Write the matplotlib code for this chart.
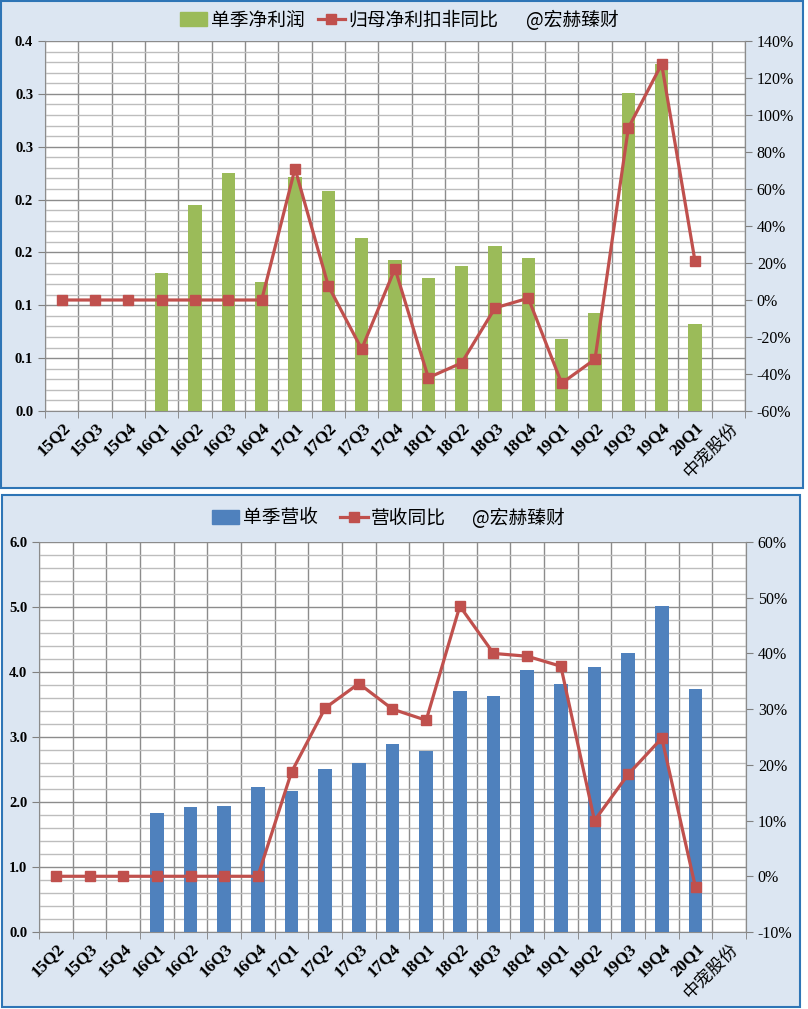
import numpy as np
import matplotlib.pyplot as plt
from matplotlib.patches import Rectangle, Patch
from matplotlib.lines import Line2D
from matplotlib.ticker import FixedLocator, MultipleLocator

# 数据
quarters = ['15Q2', '15Q3', '15Q4', '16Q1', '16Q2', '16Q3', '16Q4', '17Q1', '17Q2', '17Q3',
            '17Q4', '18Q1', '18Q2', '18Q3', '18Q4', '19Q1', '19Q2', '19Q3', '19Q4', '20Q1', '中宠股份']

profit = [np.nan, np.nan, np.nan, 0.131, 0.195, 0.225, 0.122, 0.221, 0.208, 0.164,
          0.143, 0.126, 0.137, 0.156, 0.145, 0.068, 0.093, 0.301, 0.328, 0.082, np.nan]
profit_yoy = [0, 0, 0, 0, 0, 0, 0, 71, 7.6, -26.5,
              17, -42, -34, -4.3, 1, -45, -32, 93, 127.5, 21, np.nan]

revenue = [np.nan, np.nan, np.nan, 1.83, 1.92, 1.94, 2.23, 2.17, 2.51, 2.60,
           2.89, 2.78, 3.71, 3.63, 4.03, 3.82, 4.08, 4.29, 5.02, 3.74, np.nan]
revenue_yoy = [0, 0, 0, 0, 0, 0, 0, 18.7, 30.2, 34.6,
               30.0, 28.0, 48.5, 40.0, 39.5, 37.7, 10.0, 18.3, 24.8, -2.0, np.nan]

profit_ticklabels = ['0.0', '0.1', '0.1', '0.2', '0.2', '0.3', '0.3', '0.4']

GREEN = '#9BBB59'
BLUE = '#4F81BD'
RED = '#C0504D'
BG = '#DCE6F2'
EDGE = '#2E75B6'

serif = ['Liberation Serif', 'Noto Sans CJK SC']
cjk = ['Noto Sans CJK SC', 'DejaVu Sans']

W, H = 808, 1009
fig = plt.figure(figsize=(W / 100, H / 100), dpi=100)

# 面板背景
fig.patches.append(Rectangle((1 / W, 1 - 488 / H), 802 / W, 487 / H, transform=fig.transFigure,
                             facecolor=BG, edgecolor=EDGE, linewidth=1.5, zorder=-5))
fig.patches.append(Rectangle((2 / W, 1 - 1007 / H), 798 / W, 512 / H, transform=fig.transFigure,
                             facecolor=BG, edgecolor=EDGE, linewidth=1.5, zorder=-5))


def make_panel(rect, bars, bar_color, line, ylim, ymajor, yminor, ylabels, rlim, rstep):
    ax = fig.add_axes(rect)
    ax.set_facecolor('white')
    x = np.arange(len(quarters))
    ax.bar(x, bars, width=0.4, color=bar_color, zorder=3)
    ax.set_xlim(-0.5, len(quarters) - 0.5)
    ax.set_ylim(*ylim)

    ax.xaxis.set_major_locator(FixedLocator(x))
    ax.set_xticklabels(quarters, rotation=45, ha='right', rotation_mode='anchor',
                       family=serif, fontweight='bold', fontsize=12.5)
    last = ax.get_xticklabels()[-1]
    last.set_fontweight('normal')
    last.set_family(cjk)
    last.set_fontsize(12.5)
    ax.xaxis.set_minor_locator(FixedLocator(np.arange(-0.5, len(quarters), 1)))
    ax.tick_params(axis='x', which='major', length=0, pad=6)
    ax.tick_params(axis='x', which='minor', length=5, color='#808080')

    ax.yaxis.set_major_locator(FixedLocator(ymajor))
    ax.yaxis.set_minor_locator(MultipleLocator(yminor))
    ax.set_yticklabels(ylabels, family=serif, fontweight='bold', fontsize=10.5)
    ax.tick_params(axis='y', which='major', length=5, color='#808080')
    ax.tick_params(axis='y', which='minor', length=0)

    ax.grid(which='minor', axis='x', color='#8C8C8C', linewidth=1, zorder=1)
    ax.grid(which='major', axis='y', color='#8C8C8C', linewidth=1, zorder=1)
    ax.grid(which='minor', axis='y', color='#BDBDBD', linewidth=1, zorder=1)
    ax.set_axisbelow(True)
    for s in ax.spines.values():
        s.set_color('#8C8C8C')
    ax.spines['top'].set_visible(False)

    ax2 = ax.twinx()
    ax2.plot(x, line, color=RED, linewidth=2.3, marker='s', markersize=6.8, zorder=5)
    ax2.set_ylim(*rlim)
    ticks = np.arange(rlim[0], rlim[1] + 1, rstep)
    ax2.yaxis.set_major_locator(FixedLocator(ticks))
    ax2.set_yticklabels([f'{int(t)}%' for t in ticks], family=serif, fontsize=11.5)
    ax2.tick_params(axis='y', length=5, color='#808080')
    for s in ax2.spines.values():
        s.set_visible(False)
    ax2.spines['right'].set_visible(True)
    ax2.spines['right'].set_color('#8C8C8C')
    return ax, ax2


# 上图：单季净利润
make_panel([45 / W, 1 - 411 / H, 700 / W, 370 / H], profit, GREEN, profit_yoy,
           (0, 0.35), np.arange(0, 0.351, 0.05), 0.01, profit_ticklabels, (-60, 140), 20)

h1 = [Patch(color=GREEN),
      Line2D([], [], color=RED, linewidth=2.3, marker='s', markersize=6.5)]
fig.legend(h1, ['单季净利润', '归母净利扣非同比'], loc='center left',
           bbox_to_anchor=(163 / W, 1 - 20 / H), ncol=2, frameon=False,
           prop={'family': cjk, 'size': 13.5}, handlelength=1.45, handletextpad=0.2,
           columnspacing=0.7)
fig.text(526 / W, 1 - 20 / H, '@宏赫臻财', family=cjk, fontsize=13.5, va='center', ha='left')

# 下图：单季营收
make_panel([39 / W, 1 - 932 / H, 707 / W, 390 / H], revenue, BLUE, revenue_yoy,
           (0, 6), np.arange(0, 6.01, 1), 0.2, [f'{v:.1f}' for v in range(7)], (-10, 60), 10)

h2 = [Patch(color=BLUE),
      Line2D([], [], color=RED, linewidth=2.3, marker='s', markersize=6.5)]
fig.legend(h2, ['单季营收', '营收同比'], loc='center left',
           bbox_to_anchor=(195 / W, 1 - 518 / H), ncol=2, frameon=False,
           prop={'family': cjk, 'size': 13.5}, handlelength=1.45, handletextpad=0.2,
           columnspacing=1.2)
fig.text(472 / W, 1 - 518 / H, '@宏赫臻财', family=cjk, fontsize=13.5, va='center', ha='left')

fig.savefig('out.png', dpi=100)
